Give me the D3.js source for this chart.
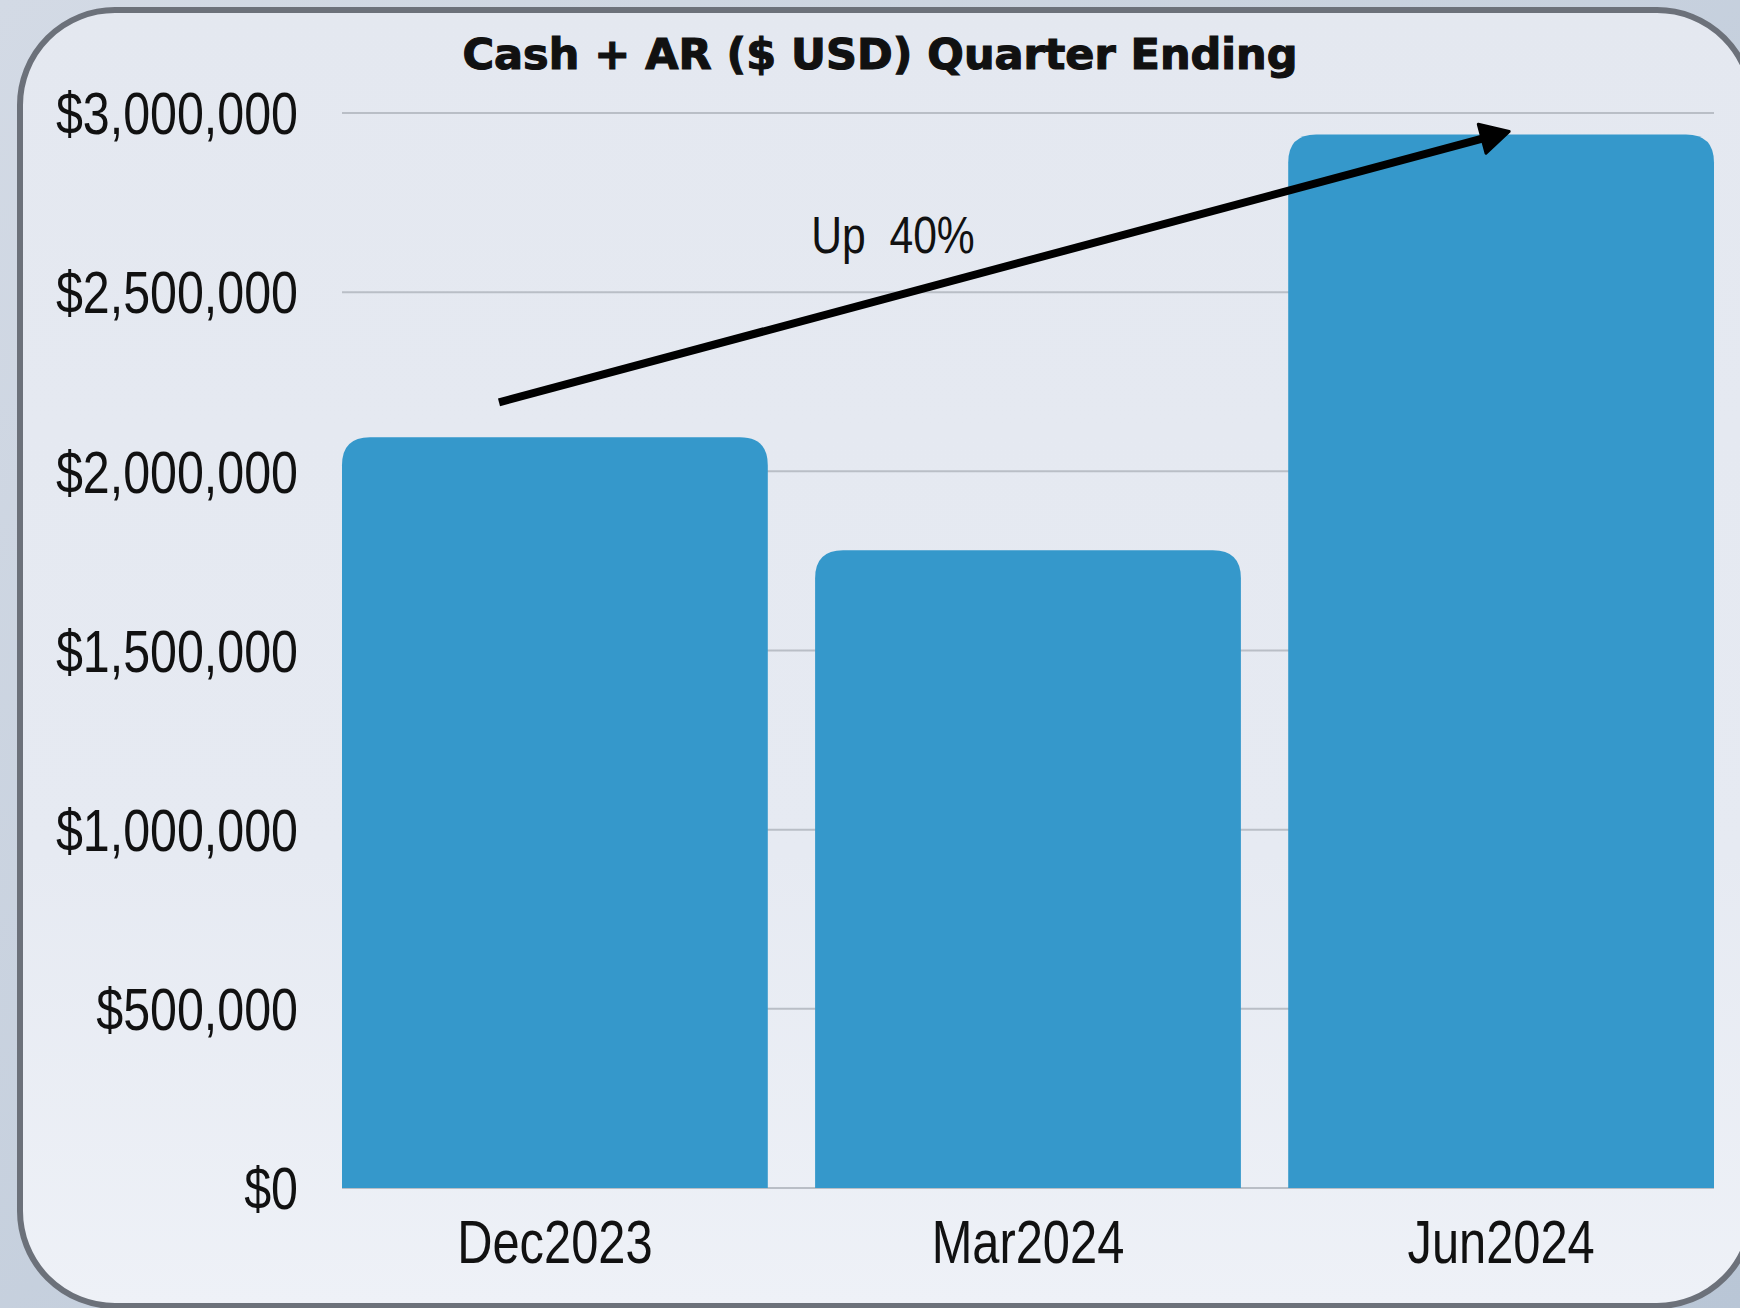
<!DOCTYPE html>
<html lang="en">
  <head>
    <meta charset="UTF-8" />
    <script src="https://d3js.org/d3.v7.min.js"></script>
    <title>Cash + AR</title>
    <style>
      body { margin: 0; background: #c8d2df; }
      svg { display: block; }
      .narrow { font-family: "Liberation Sans", Arial, sans-serif; }
    </style>
  </head>
  <body>
    <svg id="chart" width="1740" height="1308"></svg>
    <script>
      const quarters = ["Dec2023", "Mar2024", "Jun2024"];
      const cashAR = [2095000, 1780000, 2940000];
      const yTicks = [0, 500000, 1000000, 1500000, 2000000, 2500000, 3000000];
      const titleText = "Cash + AR ($ USD) Quarter Ending";
      const noteText = "Up\u00a0\u00a040%";

      const W = 1740, H = 1308;
      const margin = { top: 113, right: 26, bottom: 120, left: 342 };
      const squeeze = 0.82; // narrow look for the label font

      const svg = d3.select("#chart");
      const defs = svg.append("defs");

      // background outside the card
      const bg = defs.append("linearGradient").attr("id", "bg")
        .attr("x1", 0).attr("y1", 0).attr("x2", 1).attr("y2", 1);
      bg.append("stop").attr("offset", "0%").attr("stop-color", "#d3dae5");
      bg.append("stop").attr("offset", "100%").attr("stop-color", "#b9c6d6");
      svg.append("rect").attr("width", W).attr("height", H).attr("fill", "url(#bg)");

      // card fill, a little lighter toward the bottom
      const card = defs.append("linearGradient").attr("id", "card")
        .attr("x1", 0).attr("y1", 0).attr("x2", 0).attr("y2", 1);
      card.append("stop").attr("offset", "0%").attr("stop-color", "#e4e8f0");
      card.append("stop").attr("offset", "65%").attr("stop-color", "#e6eaf2");
      card.append("stop").attr("offset", "100%").attr("stop-color", "#eef1f7");

      svg.append("rect")
        .attr("x", 20).attr("y", 10)
        .attr("width", 1732).attr("height", 1296)
        .attr("rx", 95)
        .attr("fill", "url(#card)")
        .attr("stroke", "#6c717a")
        .attr("stroke-width", 6);

      const x = d3.scaleBand()
        .domain(quarters)
        .range([margin.left, W - margin.right])
        .paddingInner(0.1)
        .paddingOuter(0);

      const y = d3.scaleLinear()
        .domain([0, 3000000])
        .range([H - margin.bottom, margin.top]);

      // gridlines
      svg.append("g")
        .selectAll("line")
        .data(yTicks)
        .enter()
        .append("line")
        .attr("x1", margin.left)
        .attr("x2", W - margin.right)
        .attr("y1", (d) => y(d))
        .attr("y2", (d) => y(d))
        .attr("stroke", "#b9bec6")
        .attr("stroke-width", 2);

      // y axis labels
      const fmt = d3.format("$,");
      svg.append("g")
        .attr("class", "narrow")
        .selectAll("text")
        .data(yTicks)
        .enter()
        .append("text")
        .attr("transform", (d) => `translate(298,${y(d)}) scale(${squeeze},1)`)
        .attr("dy", "0.36em")
        .attr("text-anchor", "end")
        .style("font-size", "59px")
        .attr("fill", "#111")
        .text((d) => fmt(d));

      // bars, rounded top corners only
      const r = 28;
      const barPath = (d, i) => {
        const x0 = x(quarters[i]), x1 = x0 + x.bandwidth();
        const y0 = y(0), y1 = y(d);
        return `M${x0},${y0}V${y1 + r}Q${x0},${y1} ${x0 + r},${y1}H${x1 - r}Q${x1},${y1} ${x1},${y1 + r}V${y0}Z`;
      };
      svg.append("g")
        .selectAll("path")
        .data(cashAR)
        .enter()
        .append("path")
        .attr("d", barPath)
        .attr("fill", "#3598cb");

      // x labels
      svg.append("g")
        .attr("class", "narrow")
        .selectAll("text")
        .data(quarters)
        .enter()
        .append("text")
        .attr("transform", (d) => `translate(${x(d) + x.bandwidth() / 2},1263) scale(0.8,1)`)
        .attr("text-anchor", "middle")
        .style("font-size", "61px")
        .attr("fill", "#111")
        .text((d) => d);

      // title
      svg.append("text")
        .attr("x", 880)
        .attr("y", 69)
        .attr("text-anchor", "middle")
        .style("font-family", "'DejaVu Sans', sans-serif")
        .style("font-weight", "bold")
        .style("font-size", "43px")
        .attr("fill", "#111")
        .attr("stroke", "#111")
        .attr("stroke-width", 1.2)
        .text(titleText);

      // growth arrow from Dec bar toward Jun bar
      const sx = x("Dec2023") + 157, sy = y(cashAR[0]) - 35;
      const tx = x("Jun2024") + 221, ty = y(cashAR[2]) - 3;
      const ang = Math.atan2(ty - sy, tx - sx);
      const headLen = 28, headHalf = 15;
      const bx = tx - headLen * Math.cos(ang), by = ty - headLen * Math.sin(ang);

      svg.append("line")
        .attr("x1", sx).attr("y1", sy)
        .attr("x2", bx + 4 * Math.cos(ang)).attr("y2", by + 4 * Math.sin(ang))
        .attr("stroke", "#000")
        .attr("stroke-width", 8);

      svg.append("path")
        .attr("d", `M${tx},${ty}L${bx - headHalf * Math.sin(ang)},${by + headHalf * Math.cos(ang)}L${bx + headHalf * Math.sin(ang)},${by - headHalf * Math.cos(ang)}Z`)
        .attr("fill", "#000")
        .attr("stroke", "#000")
        .attr("stroke-width", 3)
        .attr("stroke-linejoin", "round");

      svg.append("text")
        .attr("class", "narrow")
        .attr("transform", `translate(893,253) scale(0.82,1)`)
        .attr("text-anchor", "middle")
        .style("font-size", "52px")
        .attr("fill", "#111")
        .text(noteText);
    </script>
  </body>
</html>
